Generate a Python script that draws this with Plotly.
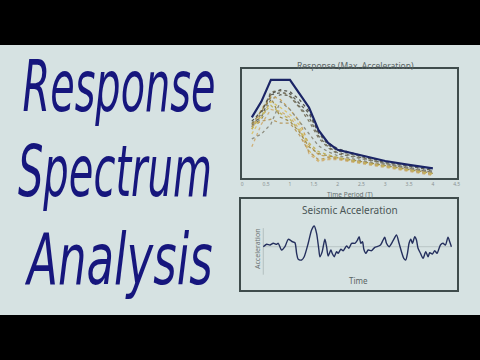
import plotly.graph_objects as go

# ---------------- data ----------------
periods = [0.2, 0.4, 0.6, 0.8, 1.0, 1.2, 1.4, 1.6, 1.8, 2.0, 2.5, 3.0, 3.5, 4.0]
envelope = [0.62, 0.78, 1.0, 1.0, 1.0, 0.86, 0.72, 0.49, 0.36, 0.29, 0.235, 0.176, 0.136, 0.10]

spectra = [
    [0.56, 0.62, 0.85, 0.87, 0.86, 0.76, 0.66, 0.46, 0.34, 0.28, 0.22, 0.16, 0.12, 0.08],
    [0.54, 0.60, 0.80, 0.85, 0.84, 0.73, 0.62, 0.43, 0.32, 0.26, 0.21, 0.15, 0.11, 0.07],
    [0.52, 0.66, 0.88, 0.89, 0.83, 0.72, 0.58, 0.41, 0.31, 0.25, 0.20, 0.15, 0.10, 0.06],
    [0.50, 0.70, 0.84, 0.80, 0.70, 0.58, 0.34, 0.24, 0.22, 0.21, 0.17, 0.13, 0.09, 0.05],
    [0.45, 0.62, 0.78, 0.72, 0.65, 0.54, 0.28, 0.18, 0.20, 0.20, 0.16, 0.12, 0.08, 0.04],
    [0.32, 0.55, 0.70, 0.68, 0.62, 0.50, 0.25, 0.17, 0.19, 0.19, 0.15, 0.11, 0.07, 0.03],
    [0.40, 0.45, 0.55, 0.78, 0.70, 0.58, 0.45, 0.33, 0.27, 0.23, 0.18, 0.14, 0.10, 0.06],
    [0.55, 0.68, 0.82, 0.62, 0.58, 0.47, 0.32, 0.25, 0.23, 0.21, 0.17, 0.13, 0.09, 0.05],
    [0.53, 0.58, 0.60, 0.56, 0.56, 0.44, 0.27, 0.19, 0.21, 0.20, 0.16, 0.12, 0.08, 0.04],
    [0.58, 0.68, 0.86, 0.90, 0.88, 0.80, 0.68, 0.47, 0.36, 0.30, 0.23, 0.17, 0.13, 0.09],
    [0.50, 0.64, 0.74, 0.66, 0.60, 0.48, 0.36, 0.27, 0.24, 0.21, 0.16, 0.12, 0.08, 0.045],
]
spectra_colors = ["#5f5f55", "#6b6a5c", "#7d7862", "#c9a45c", "#d9c36a", "#cfb07a",
                  "#8f8f80", "#a08c4c", "#b89a60", "#55554e", "#c2b45a"]

period_ticks = [0, 0.5, 1, 1.5, 2, 2.5, 3, 3.5, 4, 4.5]
period_labels = ["0", "0.5", "1", "1.5", "2", "2.5", "3", "3.5", "4", "4.5"]

time_s = [0.0, 0.34, 0.67, 1.0, 1.34, 1.5, 1.84, 2.17, 2.5, 2.77, 2.9, 3.17, 3.34, 3.5,
          3.84, 4.1, 4.5, 4.84, 5.1, 5.34, 5.57, 5.67, 5.9, 6.17, 6.34, 6.5, 6.77, 6.9,
          7.1, 7.34, 7.5, 7.77, 8.0, 8.34, 8.57, 8.84, 9.17, 9.4, 9.6, 9.77, 9.94, 10.07,
          10.27, 10.5, 10.84, 11.17, 11.4, 11.74, 12.0, 12.17, 12.34, 12.6, 13.0, 13.34,
          13.6, 13.84, 14.07, 14.27, 14.44, 14.6, 14.77, 14.94, 15.17, 15.34, 15.5, 15.74,
          16.0, 16.27, 16.5, 16.67, 16.94, 17.17, 17.4, 17.74, 18.0, 18.24, 18.5, 18.67, 18.84]
accel = [0.0, 0.12, 0.085, 0.17, 0.12, 0.17, -0.165, 0.0, 0.37, 0.3, 0.25, 0.2, -0.33,
         -0.63, -0.665, -0.5, 0.17, 0.835, 1.035, 0.67, -0.165, -0.5, -0.25, 0.37, 0.0,
         -0.465, -0.165, -0.33, -0.5, -0.25, -0.33, -0.13, -0.2, 0.035, -0.08, 0.17, 0.17,
         0.3, 0.5, 0.17, 0.25, -0.13, -0.33, -0.165, -0.2, -0.03, 0.0, 0.085, 0.335, 0.47,
         0.17, 0.0, 0.3, 0.585, 0.17, -0.25, -0.58, -0.665, -0.33, 0.17, 0.37, 0.17, 0.5,
         0.335, -0.08, -0.33, -0.58, -0.25, -0.5, -0.3, -0.365, -0.2, -0.33, 0.085, 0.17,
         0.085, 0.47, 0.25, 0.0]

title_lines = ["Response", "Spectrum", "Analysis"]

# ---------------- figure ----------------
W, H = 480, 360
BG = "#d6e2e2"
FRAME = "#3f4c4c"

def px_x(p):
    return p / W

def px_y(p):
    return 1 - p / H

fig = go.Figure()

for ys, c in zip(spectra, spectra_colors):
    fig.add_trace(go.Scatter(x=periods, y=ys, mode="lines",
                             line=dict(color=c, width=1.3, dash="dot"),
                             xaxis="x", yaxis="y", hoverinfo="skip"))
fig.add_trace(go.Scatter(x=periods, y=envelope, mode="lines",
                         line=dict(color="#1b2566", width=2.2),
                         xaxis="x", yaxis="y", hoverinfo="skip"))

fig.add_trace(go.Scatter(x=time_s, y=accel, mode="lines",
                         line=dict(color="#25305e", width=1.4, shape="spline", smoothing=0.7),
                         xaxis="x2", yaxis="y2", hoverinfo="skip"))

frame_axis = dict(showgrid=False, zeroline=False, showline=True, mirror=True,
                  linecolor=FRAME, linewidth=1.6, ticks="")

fig.update_layout(
    width=W, height=H, autosize=False,
    margin=dict(l=0, r=0, t=0, b=0, autoexpand=False),
    paper_bgcolor=BG, plot_bgcolor=BG,
    showlegend=False,
    xaxis=dict(domain=[px_x(242.3), px_x(456.7)], range=[0, 4.5],
               tickvals=period_ticks, ticktext=period_labels,
               tickfont=dict(size=5, color="#8a9292", family="Noto Sans"),
               anchor="y", **frame_axis),
    yaxis=dict(domain=[px_y(178.3), px_y(69.3)], range=[0, 1.108],
               showticklabels=False, anchor="x", **frame_axis),
    xaxis2=dict(domain=[px_x(241), px_x(456.7)], range=[-2.23, 19.37],
                showticklabels=False, anchor="y2", **frame_axis),
    yaxis2=dict(domain=[px_y(290), px_y(199)], range=[-2.165, 2.385],
                showticklabels=False, anchor="x2", **frame_axis),
)

# inner axis lines of the seismic plot
fig.add_shape(type="line", xref="x2", yref="y2", x0=0, x1=0, y0=-1.4, y1=0.93,
              line=dict(color="#b3c0c0", width=1), layer="below")
fig.add_shape(type="line", xref="x2", yref="y2", x0=0, x1=18.9, y0=0, y1=0,
              line=dict(color="#bac6c6", width=1), layer="below")

# letterbox bars
fig.add_shape(type="rect", xref="paper", yref="paper", x0=0, x1=1, y0=px_y(45), y1=1,
              fillcolor="black", line=dict(width=0), layer="above")
fig.add_shape(type="rect", xref="paper", yref="paper", x0=0, x1=1, y0=0, y1=px_y(315),
              fillcolor="black", line=dict(width=0), layer="above")

def note(text, x, y, size, color, xanchor="center", angle=0, family="Noto Sans", style="normal"):
    fig.add_annotation(text=text, x=px_x(x), y=px_y(y), xref="paper", yref="paper",
                       xanchor=xanchor, yanchor="middle", showarrow=False, textangle=angle,
                       font=dict(size=size, color=color, family=family, style=style))

note("Response (Max. Acceleration)", 355.7, 65.5, 8.5, "#5c6666")
note("Time Period (T)", 350, 194, 6.5, "#6a7272")
note("Seismic Acceleration", 350, 210, 10, "#4a5656")
note("Acceleration", 257, 249, 7, "#6a7272", angle=-90)
note("Time", 358, 280.5, 8, "#5a6464")

# big italic title: laid out at a size whose width fits, then drawn taller and
# narrowed (same width, same centre) in the page.
big_font = "DejaVu Sans"
big_centres = [118.5, 115, 119]
big_rows = [86, 171, 259]
big_widths = [193, 194, 188]
for txt, x, y in zip(title_lines, big_centres, big_rows):
    note(txt, x, y, 40, "#16167d", xanchor="center", family=big_font, style="italic")

fit_map = "{" + ",".join('"%s":%d' % (t, w) for t, w in zip(title_lines, big_widths)) + "}"
post = """
var gd = document.getElementById('{plot_id}');
var widths = %s;
function fitTitle(){
  gd.querySelectorAll('text.annotation-text').forEach(function(t){
    var w = widths[t.textContent];
    if (w && !t.getAttribute('data-fit')) {
      var b0 = t.getBBox();
      var cx = b0.x + b0.width / 2;
      var cy = b0.y + b0.height / 2;
      t.style.fontSize = '71px';
      var b1 = t.getBBox();
      var dy = cy - (b1.y + b1.height / 2);
      var y0 = parseFloat(t.getAttribute('y') || '0');
      t.setAttribute('y', y0 + dy);
      var sx = w / b1.width;
      t.setAttribute('transform', 'translate(' + cx + ',0) scale(' + sx + ',1) translate(' + (-cx) + ',0)');
      t.setAttribute('data-fit', '1');
    }
  });
}
fitTitle();
gd.on('plotly_afterplot', fitTitle);
""" % fit_map

fig.write_html("out.html", config={"responsive": False}, post_script=post)
